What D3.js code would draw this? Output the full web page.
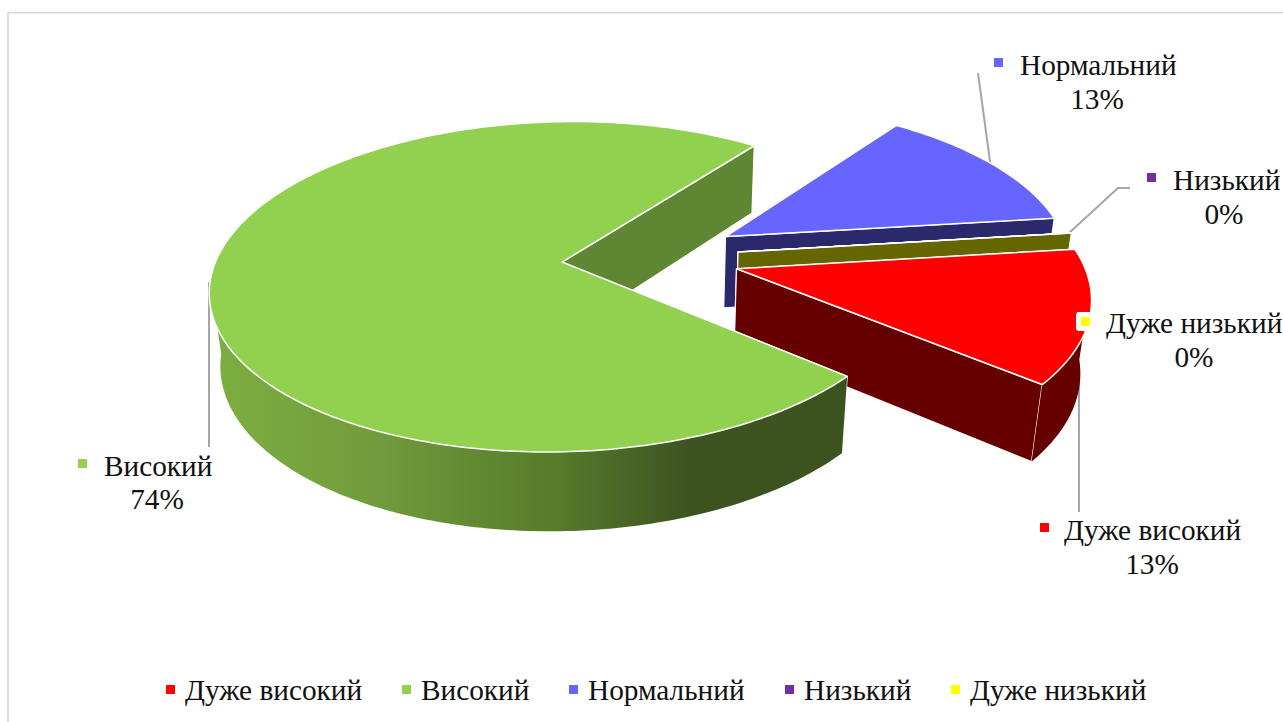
<!DOCTYPE html>
<html>
<head>
<meta charset="utf-8">
<script src="https://cdnjs.cloudflare.com/ajax/libs/d3/7.8.5/d3.min.js"></script>
<style>
  html, body { margin: 0; padding: 0; background: #fff; overflow: hidden; }
  text { font-family: "Liberation Serif", serif; font-size: 29.3px; fill: #111; }
</style>
</head>
<body>
<svg width="1283" height="722"></svg>
<script>
  const categories = ['Дуже високий', 'Високий', 'Нормальний', 'Низький', 'Дуже низький']
  const values = [13, 74, 13, 0, 0]

  const topColors = ['#ff0000', '#92d050', '#6666ff', '#7030a0', '#ffff00']
  const wallColors = ['#660000', '#5f8733', '#29296b', '#431c60', '#666600']

  // projection of the tilted disc, fitted by eye
  const view = { cx: 650.5, cy: 257, R: 345, Rs: 160, H: 74, p: 0.149, q: 0.025, explode: 0.257 }
  const firstAngle = 83

  function project (u, v, z) {
    const w = 1 - view.p * v + view.q * z
    return [view.cx + view.R * u / w, view.cy + (view.Rs * v + view.H * z) / w]
  }

  const svg = d3.select('svg')
  const line = d3.line()
  const color = d3.scaleOrdinal().domain(categories).range(topColors)
  const wallColor = d3.scaleOrdinal().domain(categories).range(wallColors)

  // front wall of the green slice is shaded left to right
  const grad = svg.append('defs').append('linearGradient').
    attr('id', 'greenWall').
    attr('gradientUnits', 'userSpaceOnUse').
    attr('x1', 215).attr('x2', 845).attr('y1', 0).attr('y2', 0)
  grad.selectAll('stop').data([[0, '#7dae40'], [0.25, '#729c3c'], [0.55, '#547a2b'], [0.75, '#3d5421'], [1, '#3c5320']]).
    enter().append('stop').
    attr('offset', d => d[0]).
    attr('stop-color', d => d[1])

  // frame, only its top and left sides fall inside the picture
  svg.append('rect').
    attr('x', 8).attr('y', 12.7).
    attr('width', 1300).attr('height', 740).
    attr('fill', 'none').attr('stroke', '#d9d9d9').attr('stroke-width', 1.7)

  const slices = d3.pie().sort(null).
    startAngle(firstAngle * Math.PI / 180).
    endAngle((firstAngle + 360) * Math.PI / 180)(values)

  // disc position of a slice, pushed out along its middle angle
  function sliceGeo (d) {
    const mid = (d.startAngle + d.endAngle) / 2
    const ox = view.explode * Math.sin(mid)
    const oy = -view.explode * Math.cos(mid)
    const pt = (a, z) => project(ox + Math.sin(a), oy - Math.cos(a), z)
    const apex = z => project(ox, oy, z)
    const n = Math.max(2, Math.ceil((d.endAngle - d.startAngle) * 60))
    const angles = d3.range(n + 1).map(i => d.startAngle + (d.endAngle - d.startAngle) * i / n)
    return { pt, apex, angles }
  }

  // back to front: blue, the two empty slices, red, green
  const drawOrder = [2, 3, 4, 0, 1]

  // leader lines sit behind the slices
  const leaders = [
    [[978, 73], [990.5, 165]],
    [[1130, 188], [1118, 188], [1069, 233]],
    [[1079, 512], [1079, 375]],
    [[209, 447], [209, 282]]
  ]
  svg.selectAll('path.leader').data(leaders).
    enter().append('path').
    attr('class', 'leader').
    attr('d', d => line(d)).
    attr('fill', 'none').
    attr('stroke', '#a6a6a6').
    attr('stroke-width', 2)

  drawOrder.forEach(i => {
    const d = slices[i]
    const name = categories[i]
    const geo = sliceGeo(d)
    const g = svg.append('g')
    const wallFill = i === 1 ? 'url(#greenWall)' : wallColor(name)

    // the two radial walls
    ;[d.startAngle, d.endAngle].forEach(a => {
      g.append('path').
        attr('d', line([geo.apex(0), geo.pt(a, 0), geo.pt(a, 1), geo.apex(1)]) + 'Z').
        attr('fill', wallColor(name)).
        attr('stroke', '#fff').
        attr('stroke-width', 1.2).
        attr('stroke-linejoin', 'round')
    })

    // outer curved wall, front facing part only
    const front = geo.angles.filter(a => -Math.cos(a) > 0.1)
    if (d.value > 0 && front.length > 1) {
      const outer = front.map(a => geo.pt(a, 0)).
        concat(front.slice().reverse().map(a => geo.pt(a, 1)))
      g.append('path').
        attr('d', line(outer) + 'Z').
        attr('fill', wallFill).
        attr('stroke', 'none')
    }

    // top face
    const top = [geo.apex(0)].concat(geo.angles.map(a => geo.pt(a, 0)))
    g.append('path').
      attr('d', line(top) + 'Z').
      attr('fill', color(name)).
      attr('stroke', '#fff').
      attr('stroke-width', 1.5).
      attr('stroke-linejoin', 'round')
  })

  // white label box that cuts into the red slice
  svg.append('rect').
    attr('x', 1076).attr('y', 312).
    attr('width', 20).attr('height', 19).
    attr('rx', 3).attr('fill', '#fff')

  const marker = 9

  const labelPos = [
    { mx: 1040, my: 523, x: 1064, y: 540, px: 1152, py: 574 },
    { mx: 78, my: 459, x: 104, y: 476, px: 157, py: 509 },
    { mx: 994, my: 58, x: 1020, y: 75, px: 1097, py: 109 },
    { mx: 1147, my: 173, x: 1173, y: 190, px: 1224, py: 224 },
    { mx: 1081, my: 317, x: 1106, y: 333, px: 1194, py: 367 }
  ]

  const labels = svg.selectAll('g.label').data(categories).
    enter().append('g').
    attr('class', 'label')
  labels.append('rect').
    attr('x', (d, i) => labelPos[i].mx).
    attr('y', (d, i) => labelPos[i].my).
    attr('width', marker).attr('height', marker).
    attr('fill', d => color(d))
  labels.append('text').
    attr('x', (d, i) => labelPos[i].x).
    attr('y', (d, i) => labelPos[i].y).
    text(d => d)
  labels.append('text').
    attr('x', (d, i) => labelPos[i].px).
    attr('y', (d, i) => labelPos[i].py).
    attr('text-anchor', 'middle').
    text((d, i) => values[i] + '%')

  // legend along the bottom
  const legendX = [166, 402, 569, 785, 951]
  const legend = svg.selectAll('g.legend').data(categories).
    enter().append('g').
    attr('class', 'legend').
    attr('transform', (d, i) => `translate(${legendX[i]},700)`)
  legend.append('rect').
    attr('y', -15).
    attr('width', marker).attr('height', marker).
    attr('fill', d => color(d))
  legend.append('text').
    attr('x', 19).
    text(d => d)
</script>
</body>
</html>
